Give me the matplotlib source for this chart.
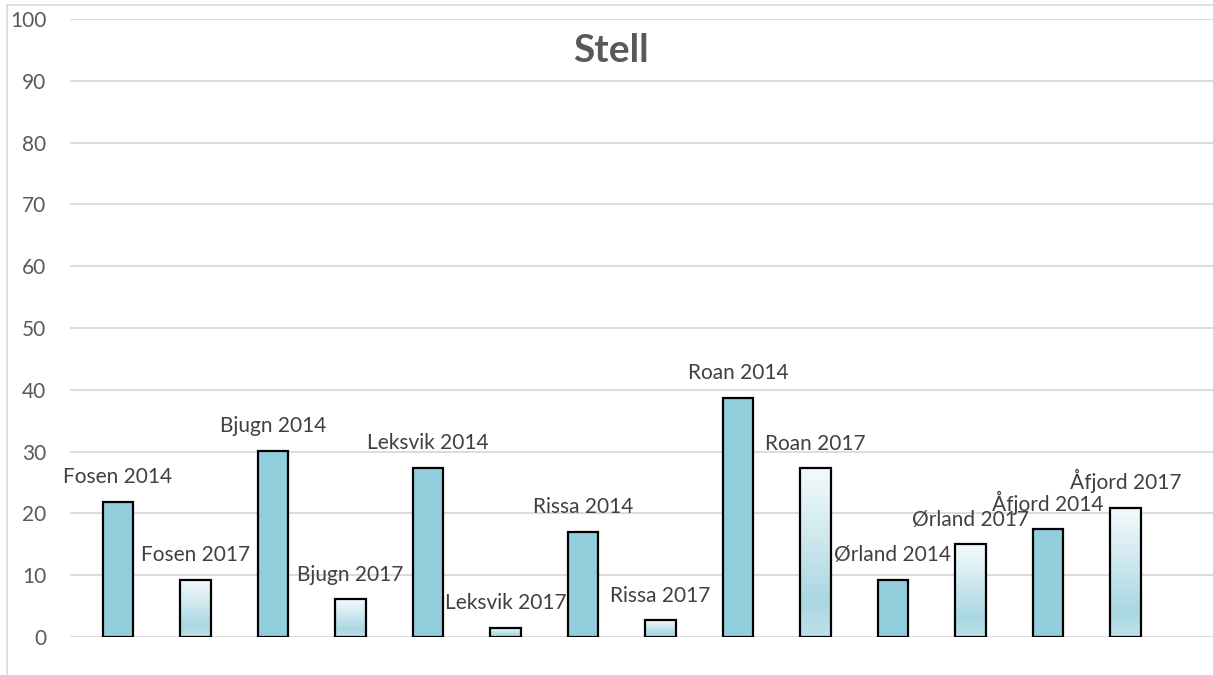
import numpy as np
import matplotlib
matplotlib.use("Agg")
from matplotlib import pyplot as plt
from matplotlib.colors import LinearSegmentedColormap
from matplotlib.lines import Line2D

# Data
labels = ["Fosen 2014", "Fosen 2017", "Bjugn 2014", "Bjugn 2017",
          "Leksvik 2014", "Leksvik 2017", "Rissa 2014", "Rissa 2017",
          "Roan 2014", "Roan 2017", "Ørland 2014", "Ørland 2017",
          "Åfjord 2014", "Åfjord 2017"]
values = [21.9, 9.2, 30.1, 6.1, 27.4, 1.5, 17.0, 2.7, 38.7, 27.3, 9.3, 15.0, 17.4, 20.9]
years = [2014, 2017] * 7
yticks = list(range(0, 101, 10))

plt.rcParams['font.family'] = ['Lato', 'DejaVu Sans']

fig = plt.figure(figsize=(12.13, 6.75), dpi=100)
ax = fig.add_axes([70 / 1213, 38 / 675, 1 - 70 / 1213, 618 / 675])

x = np.arange(len(values))
bars = ax.bar(x, values, width=0.39, color="#92cddc", edgecolor="black",
              linewidth=1.6, zorder=3)

# gradient fill for the 2017 bars
grad = LinearSegmentedColormap.from_list(
    "g", [(0, "#bfe1e9"), (0.2, "#a9d7e2"), (0.6, "#cfe9ef"), (1, "#f4fafc")])
gimg = np.linspace(0, 1, 256).reshape(-1, 1)
for b, yr in zip(bars, years):
    if yr == 2017:
        b.set_facecolor("none")
        bx, by = b.get_x(), b.get_y()
        im = ax.imshow(gimg, cmap=grad, origin="lower", aspect="auto",
                       extent=[bx, bx + b.get_width(), by, by + b.get_height()],
                       zorder=2.5)
        im.set_clip_path(b)

for xi, v, lab in zip(x, values, labels):
    ax.annotate(lab, (xi, v), xytext=(0, 13.5), textcoords="offset points",
                ha="center", va="baseline", fontsize=15, color="#404040", zorder=4)

ax.set_xlim(-0.62, 14.13)
ax.set_ylim(0, 100)
ax.set_yticks(yticks)
ax.set_xticks([])
ax.yaxis.grid(True, color="#d9d9d9", linewidth=1.3)
ax.set_axisbelow(True)
for s in ax.spines.values():
    s.set_visible(False)
ax.tick_params(axis="y", length=0, pad=17, labelsize=15, labelcolor="#595959")

fig.text(611 / 1213, 1 - 51 / 675, "Stell", ha="center", va="center",
         fontsize=28, fontweight="bold", color="#595959")

# outer chart frame
fig.add_artist(Line2D([7 / 1213, 7 / 1213], [0, 1 - 5 / 675], color="#d9d9d9", lw=1.2))
fig.add_artist(Line2D([7 / 1213, 1], [1 - 5 / 675, 1 - 5 / 675], color="#d9d9d9", lw=1.2))

fig.savefig("out.png", dpi=100)
